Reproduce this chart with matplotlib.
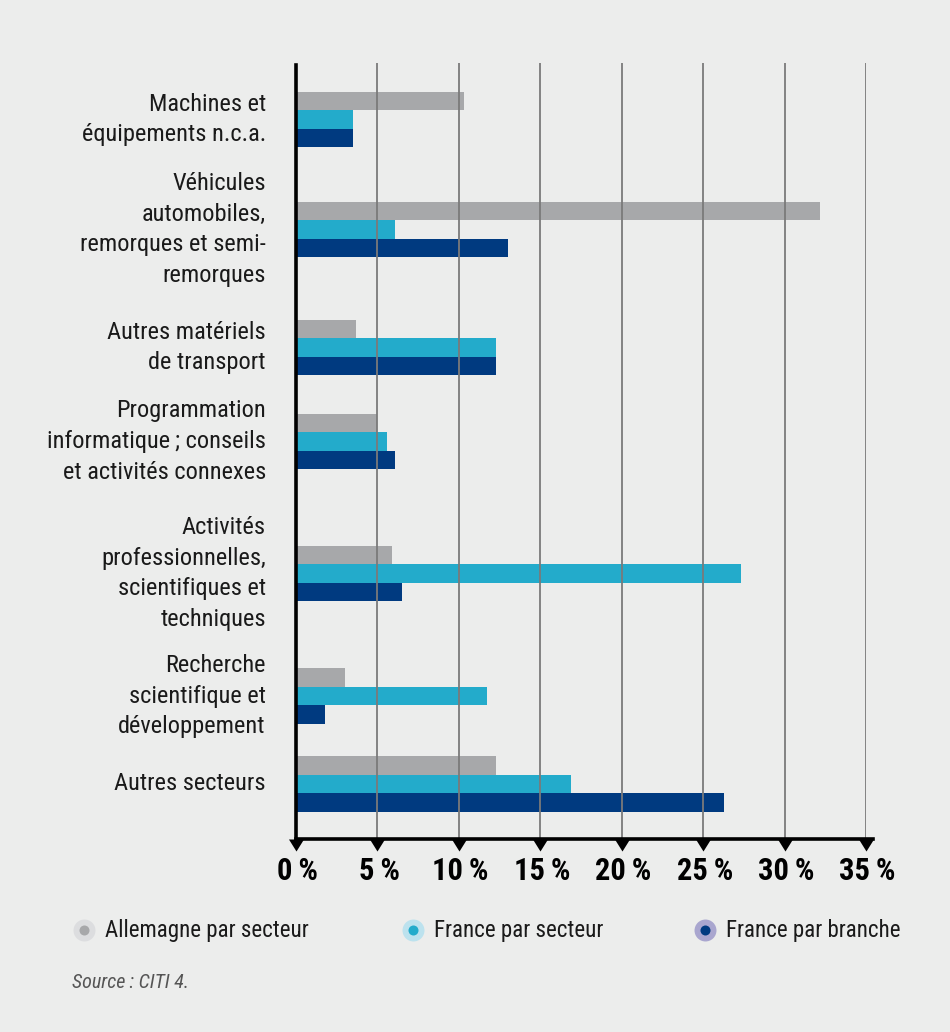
import matplotlib.pyplot as plt
from matplotlib import font_manager

names = {f.name for f in font_manager.fontManager.ttflist}
FONT = "Liberation Sans"
for cand in ["Liberation Sans Narrow", "Roboto Condensed", "Arial Narrow"]:
    if cand in names:
        FONT = cand
        break
plt.rcParams['font.family'] = [FONT, 'DejaVu Sans']

categories = [
    "Machines et\néquipements n.c.a.",
    "Véhicules\nautomobiles,\nremorques et semi-\nremorques",
    "Autres matériels\nde transport",
    "Programmation\ninformatique\u202f; conseils\net activités connexes",
    "Activités\nprofessionnelles,\nscientifiques et\ntechniques",
    "Recherche\nscientifique et\ndéveloppement",
    "Autres secteurs",
]
allemagne_secteur = [10.3, 32.2, 3.7, 5.0, 5.9, 3.0, 12.3]
france_secteur = [3.5, 6.1, 12.3, 5.6, 27.3, 11.7, 16.9]
france_branche = [3.5, 13.0, 12.3, 6.1, 6.5, 1.8, 26.3]
series_names = ["Allemagne par secteur", "France par secteur", "France par branche"]
xticks = [0, 5, 10, 15, 20, 25, 30, 35]

colors = ["#A7A8AA", "#23ABCB", "#003A80"]
halo = ["#DCDDDF", "#BCE2EE", "#A9A6CF"]
bg = "#ECEDEC"

# layout: vertical centre of each group (pixels from top of figure)
group_y = [119.5, 229.5, 347.5, 441.5, 573.5, 696, 784]
bar_h = 18.6

W, H = 950, 1032
fig = plt.figure(figsize=(W / 100, H / 100), dpi=100, facecolor=bg)
x0, x1, ytop, ybot = 296, 866, 63, 839
ax = fig.add_axes([x0 / W, 1 - ybot / H, (x1 - x0) / W, (ybot - ytop) / H])
ax.set_facecolor(bg)
ax.set_xlim(0, 35)
ax.set_ylim(ybot, ytop)
for s in ax.spines.values():
    s.set_visible(False)
ax.set_xticks([])
ax.set_yticks([])

for i, vals in enumerate([allemagne_secteur, france_secteur, france_branche]):
    ys = [g + (i - 1) * bar_h for g in group_y]
    ax.barh(ys, vals, height=bar_h, color=colors[i], zorder=2)

for t in xticks[1:]:
    ax.plot([t, t], [ybot, ytop], color="#7a7a7a", lw=1.3, zorder=3)

# axis lines
ax.plot([0, 0], [ybot, 65], color="black", lw=2.6, zorder=4, clip_on=False)
ax.plot([0, 35.45], [ybot, ybot], color="black", lw=2.6, zorder=4, clip_on=False)
tri = [(-7.5, 0), (7.5, 0), (0, -12), (-7.5, 0)]
ax.plot(xticks, [ybot] * len(xticks), ls="none", marker=tri, color="black",
        ms=17.3, mew=0, zorder=4, clip_on=False)
for t in xticks:
    ax.text(t + 0.1, 871, f"{t}\u2009%", ha="center", va="center", fontsize=22,
            fontweight="bold", color="black", clip_on=False)

for lab, y in zip(categories, group_y):
    ax.text(-1.85, y, lab, ha="right", va="center", fontsize=17.6,
            color="#1a1a1a", linespacing=1.42, multialignment="right")

# legend and source
ov = fig.add_axes([0, 0, 1, 1])
ov.set_xlim(0, W)
ov.set_ylim(H, 0)
ov.axis("off")
leg_x = [84, 413, 705]
for i in range(3):
    ov.scatter([leg_x[i]], [930], s=250, color=halo[i], lw=0)
    ov.scatter([leg_x[i]], [930], s=52, color=colors[i], lw=0)
    ov.text(leg_x[i] + 21, 930, series_names[i], ha="left", va="center",
            fontsize=16.6, color="#1a1a1a")
ov.text(72, 983, "Source\u202f: CITI 4.", ha="left", va="center", fontsize=14.5,
        style="italic", color="#555555")

fig.savefig("out.png", dpi=100, facecolor=bg)
